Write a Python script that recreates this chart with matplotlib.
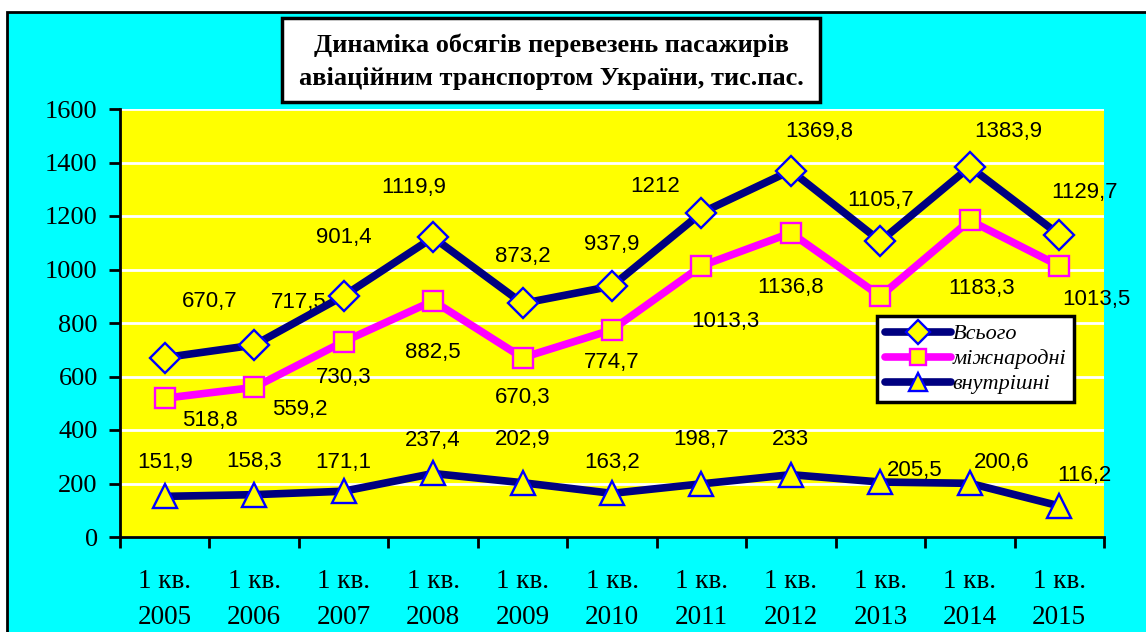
import numpy as np
import matplotlib
matplotlib.use('Agg')
import matplotlib.pyplot as plt
from matplotlib.patches import Rectangle

# дані
periods = ['1 кв.\n2005', '1 кв.\n2006', '1 кв.\n2007', '1 кв.\n2008', '1 кв.\n2009',
           '1 кв.\n2010', '1 кв.\n2011', '1 кв.\n2012', '1 кв.\n2013', '1 кв.\n2014',
           '1 кв.\n2015']
total = [670.7, 717.5, 901.4, 1119.9, 873.2, 937.9, 1212, 1369.8, 1105.7, 1383.9, 1129.7]
intl = [518.8, 559.2, 730.3, 882.5, 670.3, 774.7, 1013.3, 1136.8, 900.2, 1183.3, 1013.5]
domestic = [151.9, 158.3, 171.1, 237.4, 202.9, 163.2, 198.7, 233, 205.5, 200.6, 116.2]
yticks = [0, 200, 400, 600, 800, 1000, 1200, 1400, 1600]

# зсуви підписів (пікселі)
off_total = [(45, 56), (45, 43), (0, 58), (-19, 50), (0, 47), (0, 42),
             (-46, 26), (28, 39), (0, 41), (38, 35), (25, 42)]
off_intl = [(45, -22), (46, -22), (0, -36), (0, -52), (0, -40), (0, -33),
            (24, -56), (0, -55), (25, -32), (12, -68), (37, -34)]
off_dom = [(0, 34), (0, 33), (0, 29), (0, 33), (0, 43), (0, 31),
           (0, 44), (0, 35), (34, 12), (32, 21), (25, 30)]

W, H = 1146, 632
fig = plt.figure(figsize=(W / 100, H / 100), dpi=100)
fig.patch.set_facecolor('white')
bg = Rectangle((7 / W, -0.1), 1.2, 1 - 12 / H + 0.1, transform=fig.transFigure,
               facecolor='#00FFFF', edgecolor='black', linewidth=2, zorder=-10)
fig.add_artist(bg)

ax = fig.add_axes([120 / W, (H - 537) / H, 984 / W, 428 / H])
ax.set_facecolor('#FFFF00')
x = np.arange(len(periods))

ax.plot(x, total, color='#000080', lw=5.5, marker='D', ms=15, mfc='#FFFF00',
        mec='#0000FF', mew=1.7, label='Всього', zorder=3, solid_capstyle='round')
ax.plot(x, intl, color='#FF00FF', lw=5.5, marker='s', ms=15, mfc='#FFFF00',
        mec='#FF00FF', mew=1.7, label='міжнародні', zorder=3, solid_capstyle='round')
ax.plot(x, domestic, color='#000080', lw=5.5, marker='^', ms=17, mfc='#FFFF00',
        mec='#0000FF', mew=1.7, label='внутрішні', zorder=3, solid_capstyle='round')

for series, offs in ((total, off_total), (intl, off_intl), (domestic, off_dom)):
    for xi, v, o in zip(x, series, offs):
        txt = ('%g' % v).replace('.', ',')
        ax.annotate(txt, (xi, v), xytext=o, textcoords='offset pixels',
                    ha='center', va='center', fontsize=16,
                    family='Liberation Sans', zorder=2)

ax.set_xlim(-0.5, len(periods) - 0.5)
ax.set_ylim(0, 1600)
ax.set_yticks(yticks)
ax.set_yticklabels([str(t) for t in yticks], family='Liberation Serif', fontsize=19)
ax.yaxis.grid(True, color='white', lw=2)
ax.set_axisbelow(True)
ax.tick_params(axis='y', length=8, width=2, pad=8)

ax.set_xticks(np.arange(len(periods) + 1) - 0.5)
ax.set_xticklabels([])
ax.tick_params(axis='x', which='major', length=8, width=2, direction='out')
ax.set_xticks(x, minor=True)
ax.set_xticklabels(periods, minor=True, family='Liberation Serif', fontsize=19.5,
                   linespacing=1.6)
ax.tick_params(axis='x', which='minor', length=0, pad=23)

for s in ('top', 'right'):
    ax.spines[s].set_visible(False)
for s in ('left', 'bottom'):
    ax.spines[s].set_linewidth(2)

# заголовок
fig.patches.append(Rectangle((282 / W, 1 - 102 / H), 538 / W, 84 / H, transform=fig.transFigure,
                             facecolor='white', edgecolor='black', linewidth=2.5, zorder=5))
fig.text(551 / W, 1 - 62 / H, 'Динаміка обсягів перевезень пасажирів\nавіаційним транспортом України, тис.пас.',
         ha='center', va='center', fontsize=19, fontweight='bold', family='Liberation Serif',
         linespacing=1.55, zorder=6)

leg = ax.legend(loc='upper left', bbox_to_anchor=(877 / W, 1 - 316 / H),
                bbox_transform=fig.transFigure, frameon=True, fancybox=False,
                framealpha=1, facecolor='white', edgecolor='black',
                prop={'family': 'Liberation Serif', 'style': 'italic', 'size': 16},
                handlelength=3.0, handletextpad=0.05, labelspacing=0.2,
                borderpad=0.35, borderaxespad=0, markerscale=0.8)
leg.get_frame().set_linewidth(2.5)
leg.set_zorder(10)

fig.savefig('out.png', dpi=100)
